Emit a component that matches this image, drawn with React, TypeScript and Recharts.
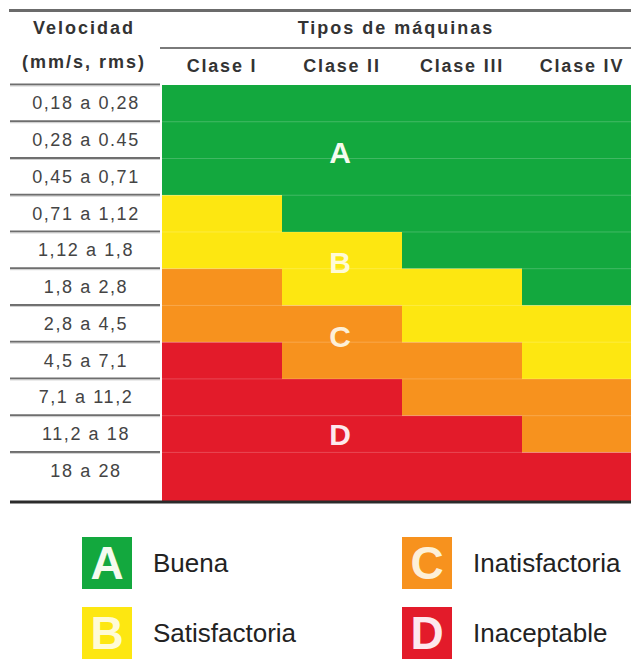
import React from 'react';
import { BarChart, Bar, XAxis, YAxis, ReferenceLine, LabelList } from 'recharts';

// machine classes and velocity bands (mm/s rms)
const classes = ['Clase I', 'Clase II', 'Clase III', 'Clase IV'];
const bounds = [0.18, 0.28, 0.45, 0.71, 1.12, 1.8, 2.8, 4.5, 7.1, 11.2, 18, 28];
const velLabels = [
  '0,18 a 0,28', '0,28 a 0.45', '0,45 a 0,71', '0,71 a 1,12', '1,12 a 1,8', '1,8 a 2,8',
  '2,8 a 4,5', '4,5 a 7,1', '7,1 a 11,2', '11,2 a 18', '18 a 28',
];
// zone limits per class
const limitAB = [0.71, 1.12, 1.8, 2.8];
const limitBC = [1.8, 2.8, 4.5, 7.1];
const limitCD = [4.5, 7.1, 11.2, 18];

const zones = ['A', 'B', 'C', 'D'];
const zoneNames = ['Buena', 'Satisfactoria', 'Inatisfactoria', 'Inaceptable'];
const zoneColors = ['#13a83e', '#fde711', '#f7921e', '#e31b2a'];
const letterTint = ['#f4fbef', '#fffbd6', '#fdf0d8', '#fde9ee'];
const letterColumn = 'Clase II';

// D is open ended, it runs to the bottom of the scale
const yMax = 11.35;
const rowOf = (v: number) => bounds.indexOf(v);

const data = classes.map((c, i) => ({
  clase: c,
  A: rowOf(limitAB[i]),
  B: rowOf(limitBC[i]) - rowOf(limitAB[i]),
  C: rowOf(limitCD[i]) - rowOf(limitBC[i]),
  D: yMax - rowOf(limitCD[i]),
}));

const yTicks: number[] = [];
velLabels.forEach((_, i) => { yTicks.push(i); yTicks.push(i + 0.5); });
yTicks.push(yMax);

const font = '"Liberation Sans", Arial, sans-serif';

const VelTick = (props: any) => {
  const { y, payload } = props;
  const v = payload.value;
  if (v === yMax) {
    return <line x1={10} x2={162} y1={y} y2={y} stroke="#2b2b2b" strokeWidth={3} />;
  }
  if (Number.isInteger(v)) {
    return (
      <g>
        <line x1={10} x2={160} y1={y - 0.5} y2={y - 0.5} stroke="#6e6e6e" strokeWidth={2} />
        <line x1={10} x2={160} y1={y + 1} y2={y + 1} stroke="#cfcfcf" strokeWidth={1} />
      </g>
    );
  }
  return (
    <text x={86} y={y} textAnchor="middle" dominantBaseline="central"
      fontFamily={font} fontSize={18} letterSpacing={1.6} fill="#444">
      {velLabels[Math.floor(v)]}
    </text>
  );
};

const zoneLetter = (zi: number) => (p: any) => {
  if (p.value !== letterColumn) return null;
  return (
    <text x={p.x + p.width / 2 - 2} y={p.y + p.height / 2 - 6} textAnchor="middle"
      dominantBaseline="central" fontFamily={font} fontWeight="bold" fontSize={30}
      fill={letterTint[zi]}>
      {zones[zi]}
    </text>
  );
};

const headText: React.CSSProperties = {
  position: 'absolute', fontWeight: 'bold', color: '#333', fontSize: 18,
  letterSpacing: 2, transform: 'translate(-50%, -50%)', whiteSpace: 'nowrap',
};

export default function App() {
  return (
    <div style={{ position: 'absolute', left: 0, top: 0, width: 631, height: 662, overflow: 'hidden', background: '#fff', fontFamily: font }}>
      {/* header */}
      <div style={{ position: 'absolute', left: 9, top: 9, width: 622, height: 3, background: '#6b6b6b' }} />
      <div style={{ position: 'absolute', left: 160, top: 47, width: 471, height: 2, background: '#7a7a7a' }} />
      <div style={{ ...headText, left: 84, top: 28 }}>Velocidad</div>
      <div style={{ ...headText, left: 84, top: 62 }}>(mm/s, rms)</div>
      <div style={{ ...headText, left: 396, top: 28 }}>Tipos de máquinas</div>

      <div style={{ position: 'absolute', left: 0, top: 0 }}>
        <BarChart width={642} height={520} data={data}
          margin={{ top: 49, right: 0, left: 8, bottom: 18 }}
          barCategoryGap={0} barGap={0}>
          <XAxis dataKey="clase" orientation="top" height={36} axisLine={false} tickLine={false}
            tickMargin={7} interval={0}
            tick={{ fill: '#333', fontSize: 18, fontWeight: 'bold', fontFamily: font, letterSpacing: 1.8 }} />
          <YAxis type="number" domain={[0, yMax]} reversed width={154} ticks={yTicks} interval={0}
            axisLine={false} tickLine={false} tick={<VelTick />} allowDataOverflow />
          {zones.map((z, zi) => (
            <Bar key={z} dataKey={z} stackId="zona" fill={zoneColors[zi]} isAnimationActive={false}>
              <LabelList dataKey="clase" content={zoneLetter(zi)} />
            </Bar>
          ))}
          {velLabels.slice(1).map((_, i) => (
            <ReferenceLine key={i} y={i + 1} stroke="#ffffff" strokeOpacity={0.2} strokeWidth={1} />
          ))}
          <ReferenceLine y={yMax} stroke="#2b2b2b" strokeWidth={3} />
        </BarChart>
      </div>

      {/* legend */}
      {zones.map((z, zi) => {
        const left = zi < 2 ? 82 : 402;
        const top = zi % 2 === 0 ? 537 : 607;
        return (
          <div key={z}>
            <div style={{
              position: 'absolute', left, top, width: 50, height: 52, background: zoneColors[zi],
              color: letterTint[zi], fontWeight: 'bold', fontSize: 46, lineHeight: '52px', textAlign: 'center',
            }}>{z}</div>
            <div style={{ position: 'absolute', left: left + 71, top: top + 26, transform: 'translateY(-50%)', fontSize: 26, color: '#222', whiteSpace: 'nowrap' }}>
              {zoneNames[zi]}
            </div>
          </div>
        );
      })}
    </div>
  );
}
